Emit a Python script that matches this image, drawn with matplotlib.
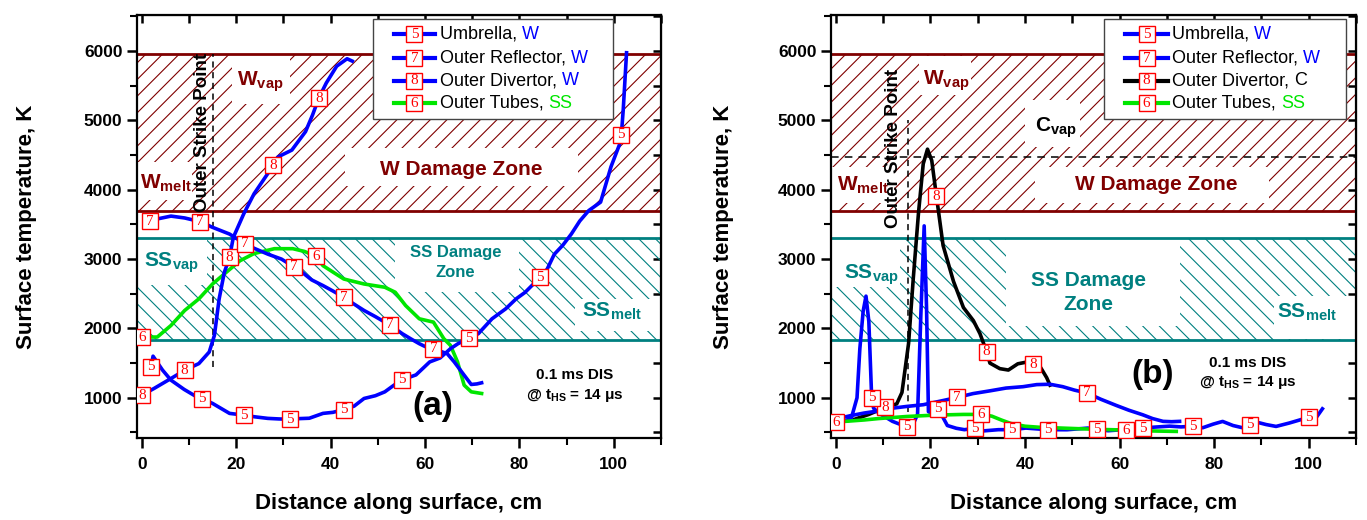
import numpy as np
import matplotlib.pyplot as plt
from matplotlib.patches import Rectangle
from matplotlib.lines import Line2D

plt.rcParams['font.family'] = ['Liberation Sans', 'DejaVu Sans']
plt.rcParams['mathtext.fontset'] = 'custom'
plt.rcParams['mathtext.bf'] = 'Liberation Sans:bold'
plt.rcParams['mathtext.rm'] = 'Liberation Sans'
plt.rcParams['hatch.linewidth'] = 0.8

# damage thresholds, K
W_VAP = 5960
W_MELT = 3700
SS_VAP = 3300
SS_MELT = 1830
C_VAP = 4470
OSP_X = 15.2

# (a) W outer divertor
a_umb_x = [2.0, 2.4, 4.4, 6.2, 9.0, 12.1, 12.8, 15.0, 18.6, 21.6, 24.0, 26.7, 29.0, 31.4, 33.5,
           35.5, 38.4, 40.5, 42.8, 45.0, 47.1, 49.5, 51.5, 53.4, 55.2, 58.1, 61.0, 63.2, 65.4,
           67.0, 69.4, 71.3, 74.2, 77.1, 79.3, 81.2, 84.4, 85.9, 87.4, 89.2, 91.0, 92.8, 94.7,
           97.2, 99.4, 101.2, 101.6, 102.0, 102.7]
a_umb_y = [1450, 1600, 1400, 1254, 1120, 995, 985, 919, 775, 750, 725, 703, 695, 690, 700,
           705, 775, 790, 830, 880, 990, 1030, 1086, 1180, 1260, 1330, 1517, 1574, 1708,
           1780, 1860, 1924, 2139, 2283, 2426, 2520, 2737, 2857, 3070, 3200, 3361, 3550, 3700,
           3821, 4330, 4650, 4790, 5153, 5976]
a_umb_marks = [2.0, 12.8, 21.6, 31.4, 42.8, 55.2, 69.4, 84.4, 101.6]

a_ref_x = [1.7, 3.3, 6.2, 9.1, 12.4, 15.0, 18.6, 21.9, 24.0, 26.7, 29.6, 32.2, 34.0, 36.0,
           38.4, 40.5, 42.8, 45.0, 47.1, 49.5, 51.5, 52.6, 55.2, 57.0, 58.8, 60.0, 61.8, 64.7,
           66.2, 68.3, 69.8, 71.0, 72.0]
a_ref_y = [3545, 3579, 3620, 3593, 3540, 3458, 3361, 3220, 3150, 3072, 3000, 2890, 2809, 2700,
           2618, 2540, 2450, 2350, 2259, 2170, 2091, 2050, 1924, 1850, 1780, 1740, 1705, 1637,
           1517, 1326, 1192, 1200, 1216]
a_ref_marks = [1.7, 12.4, 21.9, 32.2, 42.8, 52.6, 61.8]

a_div_x = [0.0, 2.6, 6.2, 9.1, 12.1, 14.3, 15.4, 16.4, 17.5, 18.6, 19.4, 21.6, 23.8, 26.7,
           27.8, 28.9, 31.8, 34.7, 36.2, 37.5, 39.1, 41.3, 43.5, 44.6]
a_div_y = [1038, 1134, 1278, 1397, 1493, 1660, 1900, 2426, 2809, 3024, 3312, 3651, 3942, 4233,
           4354, 4475, 4572, 4838, 5080, 5320, 5540, 5782, 5889, 5855]
a_div_marks = [0.0, 9.1, 18.6, 27.8, 37.5]

a_tub_x = [0.0, 3.3, 6.2, 9.1, 12.1, 15.0, 17.9, 20.8, 23.8, 28.1, 32.0, 34.5, 36.9, 38.4,
           42.8, 47.1, 51.5, 53.7, 55.9, 58.8, 61.8, 64.0, 65.4, 66.9, 68.3, 69.8, 72.0]
a_tub_y = [1876, 1876, 2043, 2259, 2426, 2641, 2809, 2976, 3080, 3150, 3150, 3110, 3040, 2905,
           2713, 2641, 2594, 2522, 2330, 2139, 2091, 1852, 1756, 1517, 1182, 1086, 1062]
a_tub_marks = [0.0, 36.9]

# (b) C outer divertor
b_umb_x = [0.0, 2.0, 3.3, 4.5, 5.1, 5.8, 6.4, 7.0, 7.6, 8.0, 9.1, 12.0, 15.0, 16.5, 17.3,
           18.0, 18.7, 19.2, 19.6, 20.7, 21.7, 23.6, 25.5, 27.2, 29.5, 30.8, 34.4, 37.3, 40.2,
           44.8, 48.9, 53.3, 55.2, 57.6, 60.5, 63.4, 65.0, 66.3, 70.6, 73.0, 75.5, 77.6, 79.8,
           81.8, 84.0, 86.0, 87.5, 89.5, 91.0, 93.1, 95.9, 98.2, 100.0, 101.5, 102.9]
b_umb_y = [650, 670, 706, 1000, 1709, 2250, 2466, 2100, 1000, 850, 780, 660, 580, 640, 760,
           2200, 3479, 2300, 800, 760, 840, 600, 560, 540, 560, 520, 540, 540, 563,
           540, 539, 563, 545, 525, 539, 563, 560, 572, 591, 580, 590, 568, 620,
           659, 600, 568, 610, 640, 614, 587, 636, 682, 720, 706, 841]
b_umb_marks = [7.6, 15.0, 21.7, 29.5, 37.3, 44.8, 55.2, 65.0, 75.5, 87.5, 100.0]

b_ref_x = [0.5, 3.0, 6.0, 9.0, 12.0, 15.0, 18.5, 22.0, 25.7, 29.0, 32.6, 36.0, 39.6, 42.5,
           45.3, 48.0, 50.5, 53.1, 56.0, 59.3, 62.0, 64.9, 67.0, 69.2, 71.0, 72.7]
b_ref_y = [700, 740, 780, 810, 850, 875, 900, 950, 1005, 1060, 1100, 1140, 1160, 1190,
           1195, 1160, 1110, 1070, 980, 890, 820, 755, 700, 660, 655, 660]
b_ref_marks = [25.7, 53.1]

b_div_x = [1.0, 4.0, 7.0, 10.4, 12.9, 14.0, 15.4, 16.4, 17.5, 18.5, 19.4, 20.3, 21.3, 22.7,
           24.9, 27.0, 29.1, 30.5, 31.9, 32.6, 34.7, 36.5, 38.5, 40.0, 41.7, 43.2, 44.6, 45.3]
b_div_y = [650, 690, 760, 860, 912, 1076, 1783, 2725, 3667, 4374, 4585, 4421, 3903, 3196,
           2678, 2301, 2113, 1924, 1665, 1500, 1420, 1400, 1490, 1510, 1480, 1450, 1290, 1182]
b_div_marks = [10.4, 21.3, 31.9, 41.7]

b_tub_x = [0.0, 3.0, 6.0, 9.0, 12.0, 15.0, 18.0, 21.0, 24.0, 27.0, 30.8, 33.0, 35.0, 37.0,
           40.0, 43.0, 47.0, 51.0, 55.0, 58.0, 61.4, 65.0, 68.0, 72.0]
b_tub_y = [650, 665, 680, 700, 715, 730, 740, 750, 755, 760, 760, 735, 680, 630,
           590, 575, 565, 555, 545, 540, 535, 525, 520, 515]
b_tub_marks = [0.0, 30.8, 61.4]

BLUE = '#0000ff'
GREEN = '#00e600'
W_RED = '#800000'
TEAL = '#008080'


def boxed_number(ax, x, y, num, transform=None, z=8):
    kw = {} if transform is None else {'transform': transform}
    ax.plot([x], [y], 's', ms=11.5, mfc='white', mec='red', mew=1.0, zorder=z, **kw)
    ax.text(x, y, num, color='red', family='Liberation Serif', fontsize=11,
            ha='center', va='center', zorder=z + 0.5, **kw)


def curve(ax, x, y, color, num, marks):
    x = np.asarray(x)
    y = np.asarray(y)
    ax.plot(x, y, color=color, lw=2.6, zorder=4, solid_joinstyle='round')
    for m in marks:
        i = int(np.argmin(np.abs(x - m)))
        boxed_number(ax, x[i], y[i], num)


def zones(ax, masks):
    ax.axhspan(W_MELT, W_VAP, facecolor='none', edgecolor=W_RED, hatch='//', linewidth=0, zorder=1)
    ax.axhspan(SS_MELT, SS_VAP, facecolor='none', edgecolor=TEAL, hatch='\\\\', linewidth=0, zorder=1)
    for x0, x1, y0, y1 in masks:
        ax.add_patch(Rectangle((x0, y0), x1 - x0, y1 - y0, facecolor='white',
                               edgecolor='none', zorder=1.5))
    for v in (W_MELT, W_VAP):
        ax.axhline(v, color=W_RED, lw=2, zorder=2)
    for v in (SS_MELT, SS_VAP):
        ax.axhline(v, color=TEAL, lw=2, zorder=2)


def label(ax, x, y, base, sub, color, size=15):
    ax.text(x, y, base + r'$_{\mathbf{' + sub + '}}$', color=color, fontsize=size,
            fontweight='bold', ha='center', va='center', zorder=3)


def legend(ax, x_line, x_text, entries):
    ax.add_patch(Rectangle((x_line[0] - 0.04, 0.754), 0.458 if x_line[0] < 0.5 else 0.46, 0.2365,
                           transform=ax.transAxes, facecolor='white', edgecolor='#444444',
                           lw=1.0, zorder=6))
    rows = [0.954, 0.898, 0.844, 0.791]
    for yy, (num, color, name, tag, tag_color) in zip(rows, entries):
        ax.add_line(Line2D([x_line[0], x_line[1]], [yy, yy], color=color, lw=3,
                           transform=ax.transAxes, zorder=7))
        boxed_number(ax, (x_line[0] + x_line[1]) / 2, yy, num, transform=ax.transAxes, z=7.2)
        t = ax.text(x_text, yy, name, transform=ax.transAxes, fontsize=13,
                    va='center', zorder=7)
        ax.annotate(tag, xy=(1, 0), xycoords=t, color=tag_color, fontsize=13,
                    va='bottom', zorder=7)


def frame(ax, ylab_x):
    ax.set_xlim(-1, 110)
    ax.set_ylim(420, 6520)
    ax.set_xticks(np.arange(0, 101, 20))
    ax.set_xticks(np.arange(10, 111, 20), minor=True)
    ax.set_yticks(np.arange(1000, 6001, 1000))
    ax.set_yticks(np.arange(500, 6501, 1000), minor=True)
    ax.tick_params(which='major', length=7, width=1.8, labelsize=12.5)
    ax.tick_params(which='minor', length=5, width=1.5)
    ax.tick_params(axis='x', pad=7)
    for lbl in ax.get_xticklabels() + ax.get_yticklabels():
        lbl.set_fontweight('bold')
    for s in ax.spines.values():
        s.set_linewidth(1.6)
    top = ax.secondary_xaxis('top')
    top.set_xticks(np.arange(0, 101, 20))
    top.set_xticks(np.arange(10, 111, 20), minor=True)
    top.tick_params(which='both', direction='in', labeltop=False, width=1.8, length=6)
    right = ax.secondary_yaxis('right')
    right.set_yticks(np.arange(1000, 6001, 1000))
    right.set_yticks(np.arange(500, 6501, 1000), minor=True)
    right.tick_params(which='both', direction='in', labelright=False, width=1.8, length=6)
    ax.set_xlabel('Distance along surface, cm', fontsize=16, fontweight='bold')
    ax.set_ylabel('Surface temperature, K', fontsize=16, fontweight='bold')
    ax.xaxis.set_label_coords(0.5, -0.13)
    ax.yaxis.set_label_coords(ylab_x, 0.5)


fig = plt.figure(figsize=(13.67, 5.2), dpi=100)
ax1 = fig.add_axes([137 / 1367, 1 - 438 / 520, 524 / 1367, 423 / 520])
ax2 = fig.add_axes([831 / 1367, 1 - 438 / 520, 525 / 1367, 423 / 520])

# ---- (a) ----
zones(ax1, [(19.1, 31.4, 5230, 5940), (-1, 10.6, 3845, 4400), (43.1, 92.5, 4060, 4600),
            (-1, 13.9, 2620, 3290), (53.7, 80.0, 2520, 3290), (91.7, 110, 1970, 2430)])
label(ax1, 25.2, 5560, 'W', 'vap', W_RED)
label(ax1, 5.1, 4090, 'W', 'melt', W_RED)
ax1.text(67.6, 4290, 'W Damage Zone', color=W_RED, fontsize=15, fontweight='bold',
         ha='center', va='center', zorder=3)
label(ax1, 6.2, 2950, 'SS', 'vap', TEAL)
ax1.text(66.5, 2950, 'SS Damage\nZone', color=TEAL, fontsize=12, fontweight='bold',
         ha='center', va='center', linespacing=1.4, zorder=3)
label(ax1, 99.5, 2250, 'SS', 'melt', TEAL)
ax1.vlines(OSP_X, 1450, W_VAP, colors='black', linestyles=(0, (4, 3)), lw=1.1, zorder=2.5)
ax1.text(12.8, 4830, 'Outer Strike Point', rotation=90, fontsize=13.5, fontweight='bold',
         ha='center', va='center', zorder=3)

curve(ax1, a_tub_x, a_tub_y, GREEN, '6', a_tub_marks)
curve(ax1, a_div_x, a_div_y, BLUE, '8', a_div_marks)
curve(ax1, a_ref_x, a_ref_y, BLUE, '7', a_ref_marks)
curve(ax1, a_umb_x, a_umb_y, BLUE, '5', a_umb_marks)

ax1.text(61.7, 880, '(a)', fontsize=24, fontweight='bold', ha='center', va='center', zorder=3)
ax1.text(91.7, 1330, '0.1 ms DIS', fontsize=11, fontweight='bold', ha='center', va='center')
ax1.text(91.7, 1030, r'@ t$_{\mathbf{HS}}$ = 14 μs', fontsize=11, fontweight='bold',
         ha='center', va='center')

legend(ax1, (0.490, 0.569), 0.578, [
    ('5', BLUE, 'Umbrella, ', 'W', BLUE),
    ('7', BLUE, 'Outer Reflector, ', 'W', BLUE),
    ('8', BLUE, 'Outer Divertor, ', 'W', BLUE),
    ('6', GREEN, 'Outer Tubes, ', 'SS', GREEN),
])
frame(ax1, -0.19)

# ---- (b) ----
zones(ax2, [(17.5, 28.7, 5360, 5930), (40.0, 51.6, 4620, 5290), (-1, 12.3, 3810, 4330),
            (42.2, 91.6, 3810, 4330), (-1, 13.5, 2600, 3290), (36.1, 72.8, 2040, 3290),
            (92.7, 110, 1850, 2470)])
ax2.axhline(C_VAP, color='black', lw=1.1, ls=(0, (5, 4)), zorder=2.5)
label(ax2, 23.3, 5570, 'W', 'vap', W_RED)
label(ax2, 46.6, 4900, 'C', 'vap', 'black')
label(ax2, 5.8, 4070, 'W', 'melt', W_RED)
ax2.text(67.7, 4070, 'W Damage Zone', color=W_RED, fontsize=15, fontweight='bold',
         ha='center', va='center', zorder=3)
label(ax2, 7.6, 2780, 'SS', 'vap', TEAL)
ax2.text(53.5, 2520, 'SS Damage\nZone', color=TEAL, fontsize=15, fontweight='bold',
         ha='center', va='center', linespacing=1.3, zorder=3)
label(ax2, 99.6, 2240, 'SS', 'melt', TEAL)
ax2.vlines(OSP_X, 800, 5000, colors='black', linestyles=(0, (4, 3)), lw=1.1, zorder=2.5)
ax2.text(12.3, 4590, 'Outer Strike Point', rotation=90, fontsize=13.5, fontweight='bold',
         ha='center', va='center', zorder=3)

curve(ax2, b_div_x, b_div_y, 'black', '8', b_div_marks)
curve(ax2, b_umb_x, b_umb_y, BLUE, '5', b_umb_marks)
curve(ax2, b_ref_x, b_ref_y, BLUE, '7', b_ref_marks)
curve(ax2, b_tub_x, b_tub_y, GREEN, '6', b_tub_marks)

ax2.text(66.9, 1335, '(b)', fontsize=24, fontweight='bold', ha='center', va='center', zorder=3)
ax2.text(87.1, 1500, '0.1 ms DIS', fontsize=11, fontweight='bold', ha='center', va='center')
ax2.text(87.1, 1225, r'@ t$_{\mathbf{HS}}$ = 14 μs', fontsize=11, fontweight='bold',
         ha='center', va='center')

legend(ax2, (0.560, 0.642), 0.650, [
    ('5', BLUE, 'Umbrella, ', 'W', BLUE),
    ('7', BLUE, 'Outer Reflector, ', 'W', BLUE),
    ('8', 'black', 'Outer Divertor, ', 'C', 'black'),
    ('6', GREEN, 'Outer Tubes, ', 'SS', GREEN),
])
frame(ax2, -0.185)

fig.savefig('out.png', dpi=100)
